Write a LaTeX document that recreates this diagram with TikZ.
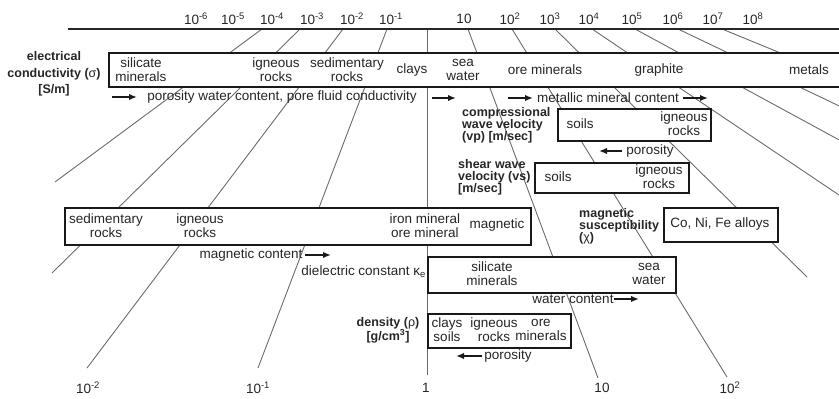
\documentclass[tikz,border=0pt]{standalone}
\usepackage{fontspec}
\setmainfont{Liberation Sans}
\usetikzlibrary{arrows.meta}
\begin{document}
\begin{tikzpicture}[x=1pt,y=-1pt,
  fan/.style={draw=black!58, line width=0.9pt},
  axisline/.style={draw=black!85, line width=1.6pt},
  box/.style={draw=black!90, line width=1.8pt, fill=white, inner sep=0pt, anchor=north west},
  lbl/.style={font=\fontsize{13.5}{14}\selectfont, align=center, inner sep=0pt, text=black!85},
  blbl/.style={font=\fontsize{12.5}{12}\selectfont\bfseries, align=left, inner sep=0pt, text=black!85},
  arr/.style={-{Latex[length=8pt,width=6.5pt]}, line width=1.6pt, draw=black!90},
  ]
\useasboundingbox (0,0) rectangle (839,399);
\clip (0,0) rectangle (839,399);

% ---- fan lines (top scale to bottom scale)
\coordinate (tm4) at (262,29); \coordinate (em4) at (55,182);
\coordinate (tm3) at (300,29); \coordinate (em3) at (52,273);
\coordinate (tm2) at (343,29); \coordinate (em2) at (87,368);
\coordinate (tm1) at (387,29); \coordinate (em1) at (258,368);
\coordinate (tz0) at (427,29); \coordinate (ez0) at (427,375);
\coordinate (tp1) at (468,29); \coordinate (ep1) at (598,378);
\coordinate (tp2) at (512,29); \coordinate (ep2) at (727,377);
\coordinate (tp3) at (555,29); \coordinate (ep3) at (807,277);
\coordinate (tp4) at (592,29); \coordinate (ep4) at (900,236);
\coordinate (tp5) at (635,29); \coordinate (ep5) at (900,173);
\coordinate (tp6) at (678,29); \coordinate (ep6) at (900,135);
\coordinate (tp7) at (722,29); \coordinate (ep7) at (900,102);
\foreach \n in {m4,m3,m2,m1,z0,p1,p2,p3,p4,p5,p6,p7}{
  \draw[fan] (t\n) -- (e\n);
}

% ---- top axis
\coordinate (axL) at (68,29); \coordinate (axR) at (860,29);
\draw[axisline] (axL) -- (axR);
\node[lbl] (u6) at (196,19) {10\textsuperscript{-6}};
\node[lbl] (u5) at (233,19) {10\textsuperscript{-5}};
\node[lbl] (u4) at (272,19) {10\textsuperscript{-4}};
\node[lbl] (u3) at (312,19) {10\textsuperscript{-3}};
\node[lbl] (u2) at (352,19) {10\textsuperscript{-2}};
\node[lbl] (u1) at (391,19) {10\textsuperscript{-1}};
\node[lbl] (v1) at (464,19) {10};
\node[lbl] (v2) at (510,19) {10\textsuperscript{2}};
\node[lbl] (v3) at (550,19) {10\textsuperscript{3}};
\node[lbl] (v4) at (589,19) {10\textsuperscript{4}};
\node[lbl] (v5) at (632,19) {10\textsuperscript{5}};
\node[lbl] (v6) at (673,19) {10\textsuperscript{6}};
\node[lbl] (v7) at (713,19) {10\textsuperscript{7}};
\node[lbl] (v8) at (753,19) {10\textsuperscript{8}};

% ---- bottom scale labels
\node[lbl] (b2) at (88,388) {10\textsuperscript{-2}};
\node[lbl] (b1) at (258,388) {10\textsuperscript{-1}};
\node[lbl] (b0) at (426,388) {1};
\node[lbl] (c1) at (602,388) {10};
\node[lbl] (c2) at (730,388) {10\textsuperscript{2}};

% ---- electrical conductivity
\node[box, minimum width=752pt, minimum height=34pt] (ecbox) at (108,52) {};
\node[blbl, align=center, font=\fontsize{12.5}{16.5}\selectfont\bfseries] (ectitle) at (54,74)
  {electrical\\conductivity (\textmd{σ})\\{}[S/m]};
\node[lbl] (ecA) at (141,70) {silicate\\minerals};
\node[lbl] (ecB) at (276,70) {igneous\\rocks};
\node[lbl] (ecC) at (347,70) {sedimentary\\rocks};
\node[lbl] (ecD) at (412,70) {clays};
\node[lbl] (ecE) at (463,70) {sea\\water};
\node[lbl] (ecF) at (545,70) {ore minerals};
\node[lbl] (ecG) at (659,70) {graphite};
\node[lbl] (ecH) at (809,70) {metals};

\node[lbl] (ecP) at (282,97) {porosity water content, pore fluid conductivity};
\coordinate (a1s) at (112,97); \coordinate (a1e) at (137,97);
\draw[arr] (a1s) -- (a1e);
\coordinate (a2s) at (432,98); \coordinate (a2e) at (456,98);
\draw[arr] (a2s) -- (a2e);
\node[lbl] (ecM) at (608,98) {metallic mineral content};
\coordinate (a3s) at (508,98); \coordinate (a3e) at (533,98);
\draw[arr] (a3s) -- (a3e);
\coordinate (a4s) at (683,98); \coordinate (a4e) at (708,98);
\draw[arr] (a4s) -- (a4e);

% ---- compressional wave velocity
\node[box, minimum width=153pt, minimum height=32pt] (vpbox) at (557,108) {};
\node[blbl, anchor=west] (vptitle) at (462,125) {compressional\\wave velocity\\(vp) [m/sec]};
\node[lbl] (vpA) at (580,124) {soils};
\node[lbl] (vpB) at (684,124) {igneous\\rocks};
\node[lbl] (vpP) at (650,151) {porosity};
\coordinate (a5s) at (622,151); \coordinate (a5e) at (599,151);
\draw[arr] (a5s) -- (a5e);

% ---- shear wave velocity
\node[box, minimum width=154pt, minimum height=30pt] (vsbox) at (534,162) {};
\node[blbl, anchor=west] (vstitle) at (458,177) {shear wave\\velocity (vs)\\{}[m/sec]};
\node[lbl] (vsA) at (558,177) {soils};
\node[lbl] (vsB) at (659,177) {igneous\\rocks};

% ---- magnetic susceptibility
\node[box, minimum width=114pt, minimum height=34pt] (chibox) at (663,207) {};
\node[blbl, anchor=west] (chititle) at (579,226) {magnetic\\susceptibility\\(\textmd{χ})};
\node[lbl] (chiA) at (720,224) {Co, Ni, Fe alloys};

\node[box, minimum width=466pt, minimum height=37pt] (magbox) at (64,207) {};
\node[lbl] (magA) at (106,226) {sedimentary\\rocks};
\node[lbl] (magB) at (200,226) {igneous\\rocks};
\node[lbl] (magC) at (425,226) {iron mineral\\ore mineral};
\node[lbl] (magD) at (497,225) {magnetic};
\node[lbl] (magP) at (251,255) {magnetic content};
\coordinate (a6s) at (305,255); \coordinate (a6e) at (331,255);
\draw[arr] (a6s) -- (a6e);

% ---- dielectric constant
\node[box, minimum width=248pt, minimum height=36pt] (diebox) at (427,256) {};
\node[lbl, anchor=east] (dietitle) at (426,272) {dielectric constant κ\textsubscript{e}};
\node[lbl] (dieA) at (492,274) {silicate\\minerals};
\node[lbl] (dieB) at (649,274) {sea\\water};
\node[lbl] (dieP) at (573,299) {water content};
\coordinate (a7s) at (614,299); \coordinate (a7e) at (639,299);
\draw[arr] (a7s) -- (a7e);

% ---- density
\node[box, minimum width=143pt, minimum height=34pt] (denbox) at (427,313) {};
\node[blbl, align=center, font=\fontsize{12.5}{14}\selectfont\bfseries] (dentitle) at (388,330)
  {density (\textmd{ρ})\\{}[g/cm\textsuperscript{3}]};
\node[lbl] (denA) at (447,330) {clays\\soils};
\node[lbl] (denB) at (494,330) {igneous\\rocks};
\node[lbl] (denC) at (541,330) {ore\\minerals};
\node[lbl] (denP) at (508,356) {porosity};
\coordinate (a8s) at (482,356); \coordinate (a8e) at (456,356);
\draw[arr] (a8s) -- (a8e);
\end{tikzpicture}
\end{document}
